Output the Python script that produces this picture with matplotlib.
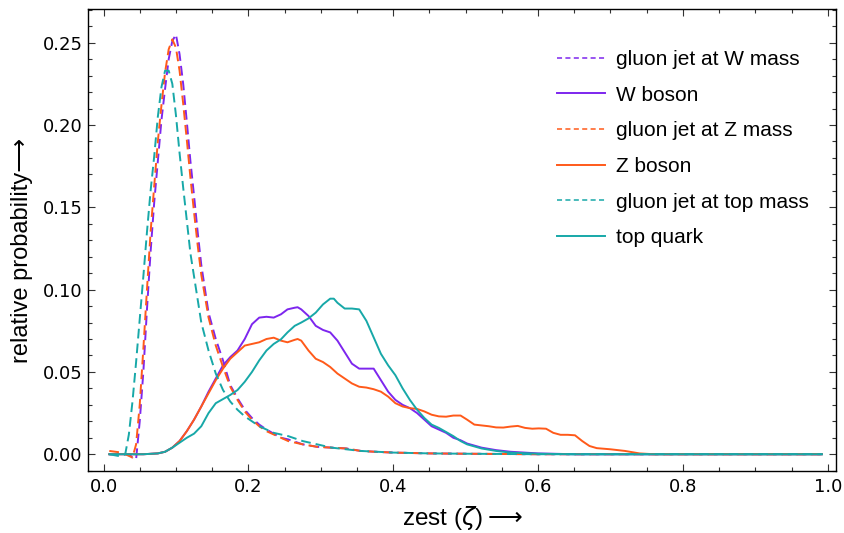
import matplotlib
matplotlib.use("Agg")
import matplotlib.pyplot as plt
from matplotlib.lines import Line2D
from matplotlib.ticker import MultipleLocator

# ---- data ----
x_gW = [0.008, 0.025, 0.035, 0.040, 0.045, 0.050, 0.055, 0.060, 0.065, 0.070, 0.075,
        0.080, 0.085, 0.090, 0.095, 0.100, 0.105, 0.110, 0.115, 0.120, 0.125, 0.130,
        0.135, 0.145, 0.155, 0.165, 0.175, 0.185, 0.195, 0.205, 0.215, 0.225, 0.235,
        0.245, 0.255, 0.275, 0.295, 0.315, 0.335, 0.355, 0.375, 0.40, 0.45, 0.50,
        0.60, 0.70, 0.80, 0.90, 0.992]
y_gW = [0.000, 0.000, 0.000, -0.002, -0.003, 0.020, 0.050, 0.088, 0.123, 0.153, 0.178,
        0.203, 0.222, 0.240, 0.251, 0.255, 0.243, 0.225, 0.202, 0.178, 0.157, 0.135,
        0.115, 0.086, 0.070, 0.057, 0.042, 0.034, 0.027, 0.022, 0.018, 0.015, 0.0125,
        0.010, 0.009, 0.006, 0.0045, 0.004, 0.0035, 0.002, 0.0015, 0.001, 0.0005, 0.0003,
        0.0, 0.0, 0.0, 0.0, 0.0]

x_gZ = [0.008, 0.025, 0.035, 0.040, 0.045, 0.050, 0.055, 0.060, 0.065, 0.070, 0.075,
        0.080, 0.085, 0.090, 0.095, 0.100, 0.105, 0.110, 0.115, 0.120, 0.125, 0.130,
        0.135, 0.145, 0.155, 0.165, 0.175, 0.185, 0.195, 0.205, 0.215, 0.225, 0.235,
        0.245, 0.255, 0.275, 0.295, 0.315, 0.335, 0.355, 0.375, 0.40, 0.45, 0.50,
        0.60, 0.70, 0.80, 0.90, 0.992]
y_gZ = [0.002, 0.001, -0.001, -0.002, 0.006, 0.030, 0.064, 0.100, 0.135, 0.163, 0.190,
        0.212, 0.232, 0.246, 0.252, 0.247, 0.233, 0.213, 0.191, 0.168, 0.147, 0.127,
        0.109, 0.083, 0.066, 0.053, 0.041, 0.033, 0.026, 0.021, 0.017, 0.014, 0.012,
        0.010, 0.008, 0.006, 0.0045, 0.004, 0.0035, 0.002, 0.0015, 0.001, 0.0005, 0.0003,
        0.0, 0.0, 0.0, 0.0, 0.0]

x_gT = [0.008, 0.020, 0.025, 0.030, 0.035, 0.040, 0.045, 0.050, 0.055, 0.060, 0.065,
        0.070, 0.075, 0.080, 0.085, 0.090, 0.095, 0.100, 0.105, 0.110, 0.115, 0.120,
        0.125, 0.130, 0.135, 0.145, 0.155, 0.165, 0.175, 0.185, 0.195, 0.205, 0.215,
        0.225, 0.235, 0.245, 0.255, 0.275, 0.295, 0.315, 0.335, 0.355, 0.40, 0.45,
        0.50, 0.60, 0.70, 0.80, 0.90, 0.992]
y_gT = [0.000, -0.001, -0.001, 0.000, 0.012, 0.032, 0.056, 0.082, 0.108, 0.135, 0.160,
        0.181, 0.205, 0.223, 0.233, 0.233, 0.225, 0.206, 0.183, 0.162, 0.142, 0.122,
        0.108, 0.094, 0.080, 0.063, 0.049, 0.039, 0.032, 0.027, 0.023, 0.020, 0.017,
        0.015, 0.013, 0.012, 0.011, 0.008, 0.006, 0.004, 0.003, 0.002, 0.001, 0.0005,
        0.0003, 0.0, 0.0, 0.0, 0.0, 0.0]

x_W = [0.008, 0.055, 0.075, 0.085, 0.095, 0.105, 0.115, 0.125, 0.135, 0.145, 0.155,
       0.165, 0.175, 0.185, 0.195, 0.205, 0.215, 0.225, 0.235, 0.245, 0.254, 0.264,
       0.268, 0.273, 0.283, 0.293, 0.303, 0.313, 0.323, 0.333, 0.343, 0.353, 0.363,
       0.373, 0.383, 0.393, 0.403, 0.413, 0.423, 0.433, 0.443, 0.453, 0.463, 0.473,
       0.483, 0.493, 0.502, 0.522, 0.542, 0.562, 0.60, 0.65, 0.992]
y_W = [0.0, 0.0, 0.0005, 0.0015, 0.004, 0.008, 0.014, 0.021, 0.029, 0.038, 0.046,
       0.054, 0.059, 0.063, 0.070, 0.079, 0.083, 0.0835, 0.083, 0.085, 0.088, 0.089,
       0.0893, 0.088, 0.084, 0.078, 0.0755, 0.074, 0.069, 0.062, 0.055, 0.052, 0.052,
       0.052, 0.045, 0.038, 0.033, 0.030, 0.028, 0.025, 0.021, 0.017, 0.015, 0.013,
       0.010, 0.0085, 0.0065, 0.004, 0.0025, 0.0015, 0.0005, 0.0, 0.0]

x_Z = [0.008, 0.055, 0.075, 0.085, 0.095, 0.105, 0.115, 0.125, 0.135, 0.145, 0.155,
       0.165, 0.175, 0.185, 0.195, 0.205, 0.215, 0.225, 0.235, 0.245, 0.254, 0.264,
       0.268, 0.273, 0.283, 0.293, 0.303, 0.313, 0.323, 0.333, 0.343, 0.353, 0.363,
       0.373, 0.383, 0.393, 0.403, 0.413, 0.423, 0.433, 0.443, 0.453, 0.463, 0.473,
       0.483, 0.493, 0.502, 0.512, 0.522, 0.532, 0.542, 0.552, 0.562, 0.572, 0.582,
       0.592, 0.601, 0.611, 0.621, 0.631, 0.641, 0.651, 0.661, 0.671, 0.681, 0.70,
       0.72, 0.74, 0.76, 0.992]
y_Z = [0.0, 0.0, 0.0005, 0.0015, 0.004, 0.008, 0.014, 0.021, 0.029, 0.037, 0.045,
       0.052, 0.058, 0.062, 0.066, 0.067, 0.068, 0.070, 0.0708, 0.069, 0.068, 0.0695,
       0.070, 0.069, 0.063, 0.058, 0.056, 0.053, 0.049, 0.046, 0.043, 0.041, 0.0405,
       0.0395, 0.038, 0.035, 0.031, 0.029, 0.028, 0.0275, 0.026, 0.024, 0.023, 0.0228,
       0.0235, 0.0235, 0.021, 0.018, 0.0175, 0.017, 0.0163, 0.0162, 0.0168, 0.0172,
       0.016, 0.0155, 0.0157, 0.0155, 0.013, 0.0118, 0.0118, 0.0115, 0.008, 0.005,
       0.0037, 0.003, 0.002, 0.0005, 0.0, 0.0]

x_T = [0.008, 0.055, 0.075, 0.085, 0.095, 0.105, 0.115, 0.125, 0.135, 0.145, 0.155,
       0.165, 0.175, 0.185, 0.195, 0.205, 0.215, 0.225, 0.235, 0.245, 0.254, 0.264,
       0.273, 0.283, 0.293, 0.303, 0.313, 0.318, 0.323, 0.333, 0.343, 0.353, 0.363,
       0.373, 0.383, 0.393, 0.403, 0.413, 0.423, 0.433, 0.443, 0.453, 0.463, 0.473,
       0.483, 0.493, 0.502, 0.522, 0.542, 0.562, 0.60, 0.65, 0.992]
y_T = [0.0, 0.0, 0.0005, 0.0015, 0.004, 0.007, 0.010, 0.0125, 0.017, 0.025, 0.031,
       0.0335, 0.036, 0.039, 0.044, 0.050, 0.057, 0.063, 0.067, 0.0698, 0.074, 0.078,
       0.080, 0.0825, 0.086, 0.091, 0.0945, 0.0945, 0.092, 0.0885, 0.0885, 0.088, 0.081,
       0.071, 0.061, 0.054, 0.048, 0.040, 0.033, 0.027, 0.022, 0.018, 0.016, 0.0135,
       0.011, 0.008, 0.006, 0.0035, 0.002, 0.001, 0.0003, 0.0, 0.0]

labels = ["gluon jet at W mass", "W boson", "gluon jet at Z mass", "Z boson",
          "gluon jet at top mass", "top quark"]

PURPLE = "#7D26EE"
ORANGE = "#FF5A1A"
TEAL = "#17A8A8"

# ---- figure ----
fig = plt.figure(figsize=(8.45, 5.33), dpi=100)
ax = fig.add_axes([0.1045, 0.1169, 0.8854, 0.8657])

lw = 1.4
dash = (5.0, 2.6)
series = [
    (x_gW, y_gW, PURPLE, "--"),
    (x_W, y_W, PURPLE, "-"),
    (x_gZ, y_gZ, ORANGE, "--"),
    (x_Z, y_Z, ORANGE, "-"),
    (x_gT, y_gT, TEAL, "--"),
    (x_T, y_T, TEAL, "-"),
]
handles = []
for (xs, ys, c, ls), lab in zip(series, labels):
    if ls == "--":
        ax.plot(xs, ys, color=c, lw=lw, ls=(0, dash))
        handles.append(Line2D([], [], color=c, lw=1.1, ls=(0, (3.3, 2.2))))
    else:
        ax.plot(xs, ys, color=c, lw=lw)
        handles.append(Line2D([], [], color=c, lw=1.4))

ax.set_xlim(-0.021, 1.012)
ax.set_ylim(-0.0100, 0.2703)

ax.xaxis.set_major_locator(MultipleLocator(0.2))
ax.xaxis.set_minor_locator(MultipleLocator(0.05))
ax.yaxis.set_major_locator(MultipleLocator(0.05))
ax.yaxis.set_minor_locator(MultipleLocator(0.01))
ax.xaxis.set_major_formatter(matplotlib.ticker.FormatStrFormatter("%.1f"))
ax.yaxis.set_major_formatter(matplotlib.ticker.FormatStrFormatter("%.2f"))

ax.tick_params(which="both", direction="in", top=True, right=True, width=0.8,
               color="#333333")
ax.tick_params(which="major", length=5)
ax.tick_params(which="minor", length=2.8)
ax.tick_params(axis="x", which="major", labelsize=13, pad=5)
ax.tick_params(axis="y", which="major", labelsize=13, pad=4)
for lab in ax.get_xticklabels() + ax.get_yticklabels():
    lab.set_family("DejaVu Sans")
for s in ax.spines.values():
    s.set_linewidth(1.0)

lab_fam = ["Liberation Sans", "DejaVu Sans"]
ax.set_xlabel("zest ($\\zeta$)$\\longrightarrow$", fontsize=17.5, family=lab_fam,
              labelpad=6)
ax.set_ylabel("relative probability\u27f6", fontsize=17, family=lab_fam)
ax.yaxis.set_label_coords(-0.074, 0.478)

ax.legend(handles, labels, loc="upper left", bbox_to_anchor=(0.6264, 0.912),
          frameon=False, borderpad=0, borderaxespad=0, handlelength=2.3,
          handletextpad=0.55, labelspacing=0.80,
          prop={"family": "Liberation Sans", "size": 15})

fig.savefig("out.png", dpi=100)
